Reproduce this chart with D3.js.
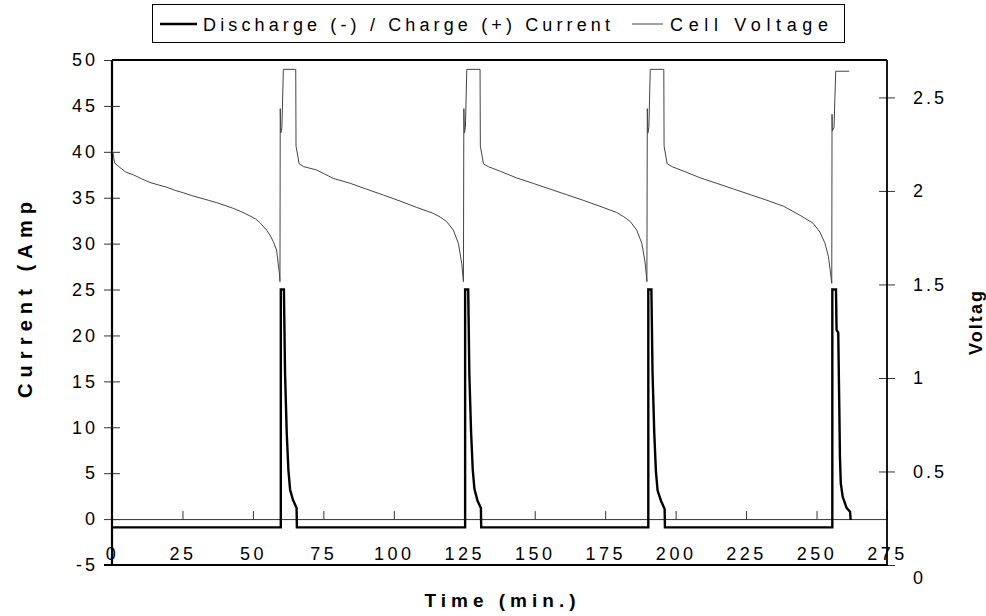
<!DOCTYPE html>
<html>
<head>
<meta charset="utf-8">
<script src="https://cdn.jsdelivr.net/npm/d3@7"></script>
<style>
  html, body { margin: 0; padding: 0; background: #fff; }
  svg { display: block; font-family: "Liberation Sans", Arial, sans-serif; }
</style>
</head>
<body>
<svg id="chart" width="986" height="616"></svg>
<script>
// ---------------- data ----------------
const timeTicks = [0, 25, 50, 75, 100, 125, 150, 175, 200, 225, 250, 275];
const currentTicks = [-5, 0, 5, 10, 15, 20, 25, 30, 35, 40, 45, 50];
const voltageTicks = [0, 0.5, 1, 1.5, 2, 2.5];

const currentTime = [
  0, 59.9, 59.9, 61.0, 61.4, 62.0, 62.6, 63.2, 64.2, 65.5, 65.6,
  125.3, 125.3, 126.4, 126.8, 127.4, 128.0, 128.6, 129.7, 130.9, 131.0,
  190.3, 190.3, 191.4, 191.8, 192.4, 193.0, 193.6, 194.8, 196.1, 196.2,
  255.6, 255.6, 256.9, 257.1, 257.7, 258.1, 258.3, 258.6, 259.3, 260.7, 261.9, 262.1
];
const currentValue = [
  -0.9, -0.9, 25, 25, 15.9, 9.4, 5.3, 3.2, 2.1, 1.2, -0.9,
  -0.9, 25, 25, 15.8, 9.6, 5.4, 3.3, 2.0, 1.2, -0.9,
  -0.9, 25, 25, 16.0, 9.5, 5.2, 3.1, 2.0, 1.1, -0.9,
  -0.9, 25, 25, 20.6, 20.3, 11.6, 6.8, 3.9, 2.4, 1.2, 0.8, -0.1
];

const voltageTime = [
  0, 0.4, 0.9, 2.8, 5.0, 7.6, 10.5, 13.5, 16.5, 19.4, 22.4, 25.3, 28.3, 31.2, 34.2, 37.2,
  40.1, 43.0, 46.0, 49.0, 51.0, 52.5, 54.9, 56.2, 57.2, 58.4, 59.0, 59.4, 59.6,
  59.7, 59.9, 60.3, 60.8, 65.2, 65.3, 66.4,
  68.0, 72.6, 75.5, 78.5, 84.5, 90.4, 96.3, 102.2, 108.1, 114.0, 116.5, 118.8, 121.1,
  122.9, 124.1, 124.7,
  124.85, 125.05, 125.4, 125.9, 130.6, 130.7, 131.8,
  133.5, 137.8, 143.5, 149.5, 155.4, 161.3, 167.2, 173.1, 179.0, 181.6, 184.0, 186.2,
  188.0, 189.2, 189.8,
  189.95, 190.15, 190.5, 191.0, 195.8, 195.9, 197.0,
  198.7, 203.0, 208.7, 214.7, 220.6, 226.5, 232.4, 238.3, 244.1, 248.8, 251.2, 253.0,
  254.2, 254.8, 255.4,
  255.5, 255.6, 256.2, 256.8, 261.6
];
const voltageValue = [
  2.22, 2.20, 2.15, 2.125, 2.10, 2.086, 2.065, 2.045, 2.032, 2.02, 2.003, 1.99, 1.975, 1.963, 1.95, 1.937,
  1.922, 1.907, 1.888, 1.866, 1.85, 1.83, 1.79, 1.76, 1.73, 1.684, 1.61, 1.56, 1.515,
  2.44, 2.31, 2.34, 2.65, 2.65, 2.24, 2.145,
  2.13, 2.112, 2.09, 2.067, 2.041, 2.009, 1.978, 1.946, 1.912, 1.88, 1.86, 1.835, 1.791,
  1.72, 1.613, 1.515,
  2.44, 2.31, 2.34, 2.65, 2.65, 2.24, 2.145,
  2.13, 2.105, 2.07, 2.04, 2.01, 1.98, 1.95, 1.918, 1.885, 1.862, 1.835, 1.79,
  1.72, 1.615, 1.515,
  2.44, 2.31, 2.34, 2.65, 2.65, 2.24, 2.145,
  2.13, 2.105, 2.07, 2.04, 2.01, 1.98, 1.95, 1.918, 1.87, 1.827, 1.78, 1.72,
  1.65, 1.58, 1.506,
  2.41, 2.32, 2.34, 2.64, 2.64
];

const legendLabels = ["Discharge (-) / Charge (+) Current", "Cell Voltage"];

// ---------------- chart ----------------
const svg = d3.select("#chart");
const L = 112, R = 887, T = 60, B = 565;
const FONT = "Liberation Sans, Arial, sans-serif";

const x = d3.scaleLinear().domain([0, 275]).range([L, R]);
const yI = d3.scaleLinear().domain([-5, 50]).range([B, T]);
const yV = d3.scaleLinear().domain([0, 2.7]).range([B, T]);

svg.append("defs").append("clipPath").attr("id", "plotclip")
  .append("rect").attr("x", L).attr("y", T).attr("width", R - L).attr("height", B - T);

// zero line / x axis (ticks pointing up, labels low)
const xAxis = svg.append("g").attr("transform", `translate(0,${yI(0)})`)
  .call(d3.axisBottom(x).tickValues(timeTicks).tickFormat(d => String(d))
    .tickSizeInner(-8).tickSizeOuter(0).tickPadding(28));
xAxis.select(".domain").attr("stroke", "#333").attr("stroke-width", 1);
xAxis.selectAll(".tick line").attr("stroke", "#333").attr("stroke-width", 1);
xAxis.selectAll(".tick text").attr("font-size", 18).attr("letter-spacing", "3.5px")
  .attr("fill", "#000").attr("font-family", FONT);

// left axis
const yAxisL = svg.append("g").attr("transform", `translate(${L},0)`)
  .call(d3.axisLeft(yI).tickValues(currentTicks).tickFormat(d => String(d))
    .tickSizeInner(8).tickSizeOuter(0).tickPadding(6));
yAxisL.select(".domain").remove();
yAxisL.selectAll(".tick line").attr("x1", 8).attr("x2", -8).attr("stroke", "#333").attr("stroke-width", 1);
yAxisL.selectAll(".tick text").attr("font-size", 18).attr("letter-spacing", "3px").attr("x", -14)
  .attr("fill", "#000").attr("font-family", FONT);

// right axis
const yAxisR = svg.append("g").attr("transform", `translate(${R},0)`)
  .call(d3.axisRight(yV).tickValues(voltageTicks).tickFormat(d => String(d))
    .tickSizeInner(8).tickSizeOuter(0).tickPadding(18));
yAxisR.select(".domain").remove();
yAxisR.selectAll(".tick line").attr("x1", -8).attr("x2", 8).attr("stroke", "#333").attr("stroke-width", 1);
yAxisR.selectAll(".tick text").attr("font-size", 18).attr("letter-spacing", "3px")
  .attr("fill", "#000").attr("font-family", FONT);
yAxisR.selectAll(".tick").filter(d => d === 0).select("text").attr("dy", "1.05em");

// plot frame
svg.append("line").attr("x1", L).attr("x2", R).attr("y1", T).attr("y2", T).attr("stroke", "#000").attr("stroke-width", 2.2);
svg.append("line").attr("x1", L - 8).attr("x2", R).attr("y1", B).attr("y2", B).attr("stroke", "#000").attr("stroke-width", 2);
svg.append("line").attr("x1", L).attr("x2", L).attr("y1", T).attr("y2", B).attr("stroke", "#000").attr("stroke-width", 2.2);
svg.append("line").attr("x1", R).attr("x2", R).attr("y1", T).attr("y2", B + 1).attr("stroke", "#000").attr("stroke-width", 1.8);

// series
const vData = voltageTime.map((t, i) => [t, voltageValue[i]]);
const cData = currentTime.map((t, i) => [t, currentValue[i]]);

svg.append("path").datum(vData)
  .attr("clip-path", "url(#plotclip)")
  .attr("fill", "none").attr("stroke", "#444").attr("stroke-width", 1)
  .attr("d", d3.line().x(d => x(d[0])).y(d => yV(d[1])));

svg.append("path").datum(cData)
  .attr("fill", "none").attr("stroke", "#000").attr("stroke-width", 2.4)
  .attr("stroke-linejoin", "miter")
  .attr("d", d3.line().x(d => x(d[0])).y(d => yI(d[1])));

// axis titles
svg.append("text").attr("transform", "translate(32,300) rotate(-90)")
  .attr("text-anchor", "middle").attr("font-size", 20).attr("font-weight", "bold")
  .attr("textLength", 196).attr("lengthAdjust", "spacing")
  .text("Current (Amp");
svg.append("text").attr("transform", "translate(982,323) rotate(-90)")
  .attr("text-anchor", "middle").attr("font-size", 18).attr("font-weight", "bold")
  .attr("textLength", 64).attr("lengthAdjust", "spacing")
  .text("Voltag");
svg.append("text").attr("x", 500).attr("y", 607)
  .attr("text-anchor", "middle").attr("font-size", 19).attr("font-weight", "bold")
  .attr("textLength", 151).attr("lengthAdjust", "spacing")
  .text("Time (min.)");

// legend
const lg = svg.append("g");
lg.append("rect").attr("x", 152.5).attr("y", 4.5).attr("width", 692).attr("height", 38)
  .attr("fill", "#fff").attr("stroke", "#000").attr("stroke-width", 1);
lg.append("line").attr("x1", 160).attr("x2", 197).attr("y1", 24).attr("y2", 24).attr("stroke", "#000").attr("stroke-width", 2.4);
lg.append("text").attr("x", 203).attr("y", 30.5).attr("font-size", 18)
  .attr("textLength", 407).attr("lengthAdjust", "spacing").text(legendLabels[0]);
lg.append("line").attr("x1", 632).attr("x2", 663).attr("y1", 24).attr("y2", 24).attr("stroke", "#444").attr("stroke-width", 1);
lg.append("text").attr("x", 670).attr("y", 30.5).attr("font-size", 18)
  .attr("textLength", 158).attr("lengthAdjust", "spacing").text(legendLabels[1]);
</script>
</body>
</html>
